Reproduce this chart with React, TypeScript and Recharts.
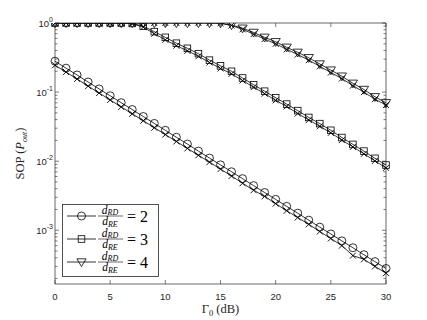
import React from 'react';
import { LineChart, Line, XAxis, YAxis } from 'recharts';

const gammaDb = [0,1,2,3,4,5,6,7,8,9,10,11,12,13,14,15,16,17,18,19,20,21,22,23,24,25,26,27,28,29,30];

const sopRatio2Analytic = [0.28,0.222,0.177,0.14,0.111,0.0885,0.0703,0.0559,0.0443,0.0352,0.028,0.0222,0.0177,0.014,0.0111,0.00885,0.00703,0.00559,0.00443,0.00352,0.0028,0.00222,0.00177,0.0014,0.00111,0.000885,0.000703,0.000559,0.000443,0.000352,0.00028];
const sopRatio2Sim = [0.245,0.195,0.155,0.122,0.097,0.077,0.061,0.0485,0.0385,0.0305,0.0243,0.0193,0.0153,0.0122,0.0097,0.0077,0.0061,0.0048,0.0038,0.0031,0.00243,0.00192,0.00153,0.00122,0.00096,0.00076,0.0006,0.00043,0.00038,0.0003,0.00024];

const sopRatio3Analytic = [1,1,1,1,1,1,1,0.985,0.9,0.75,0.62,0.51,0.43,0.36,0.29,0.24,0.2,0.16,0.128,0.103,0.083,0.067,0.054,0.043,0.035,0.028,0.022,0.0175,0.014,0.011,0.0088];
const sopRatio3Sim = [1,1,1,1,1,1,1,0.975,0.87,0.7,0.57,0.47,0.395,0.33,0.268,0.22,0.184,0.147,0.118,0.095,0.076,0.062,0.049,0.0395,0.032,0.0257,0.0202,0.0161,0.0128,0.0101,0.008];

const sopRatio4Analytic = [1,1,1,1,1,1,1,1,1,1,1,1,1,1,1,0.995,0.935,0.84,0.73,0.62,0.535,0.445,0.376,0.314,0.255,0.208,0.17,0.134,0.109,0.0855,0.07];
const sopRatio4Sim = [1,1,1,1,1,1,1,1,1,1,1,1,1,1,1,0.99,0.92,0.81,0.69,0.585,0.5,0.415,0.35,0.29,0.236,0.192,0.157,0.124,0.1,0.079,0.065];

const xTicks = [0,5,10,15,20,25,30];
const yMajorTicks = [0.001,0.01,0.1,1];
const yMinorTicks = [0.0002,0.0003,0.0004,0.0005,0.0006,0.0007,0.0008,0.0009,0.002,0.003,0.004,0.005,0.006,0.007,0.008,0.009,0.02,0.03,0.04,0.05,0.06,0.07,0.08,0.09,0.2,0.3,0.4,0.5,0.6,0.7,0.8,0.9];
const yDomain = [0.000167, 1];
const legendRatios = [2,3,4];
const legendMarkers = ['circle','square','triangle'];

const data = gammaDb.map((g, i) => ({
  g,
  a2: sopRatio2Analytic[i], s2: sopRatio2Sim[i],
  a3: sopRatio3Analytic[i], s3: sopRatio3Sim[i],
  a4: sopRatio4Analytic[i], s4: sopRatio4Sim[i],
}));

const yTicks = [...yMinorTicks, ...yMajorTicks].sort((a, b) => a - b);
const AX = '#262626';
const SANS = 'Liberation Sans, Arial, Helvetica, sans-serif';
const SERIF = 'Liberation Serif, Times New Roman, serif';

const isMajor = (v: number) => yMajorTicks.some(m => Math.abs(m - v) / m < 1e-6);

const Marker = ({ kind, cx, cy }: { kind: string; cx: number; cy: number }) => {
  const st = { stroke: '#000', strokeWidth: 0.8, fill: 'none' };
  if (kind === 'circle') return <circle cx={cx} cy={cy} r={4} {...st} />;
  if (kind === 'square') return <rect x={cx - 3.3} y={cy - 3.3} width={6.6} height={6.6} {...st} />;
  if (kind === 'triangle') return <path d={`M${cx - 4.6},${cy - 3.2} L${cx + 4.6},${cy - 3.2} L${cx},${cy + 4.6} Z`} {...st} />;
  return <path d={`M${cx - 3},${cy - 3} L${cx + 3},${cy + 3} M${cx - 3},${cy + 3} L${cx + 3},${cy - 3}`} stroke="#000" strokeWidth={0.9} fill="none" />;
};

const dotFn = (kind: string) => (p: any) => (
  <g key={`${kind}-${p.index}`}><Marker kind={kind} cx={p.cx} cy={p.cy} /></g>
);

const LeftTick = (p: any) => {
  const v = p.payload.value;
  const major = isMajor(v);
  const len = major ? 4 : 2.5;
  const exp = Math.round(Math.log10(v));
  return (
    <g>
      <line x1={p.x} x2={p.x + len} y1={p.y} y2={p.y} stroke={AX} strokeWidth={0.6} />
      {major && (
        <text x={p.x - 2} y={p.y + 3.5} textAnchor="end" fontSize={9.5} fontFamily={SANS} fill={AX}>
          10<tspan dy={-4.5} fontSize={7}>{exp === 0 ? '0' : `-${-exp}`}</tspan>
        </text>
      )}
    </g>
  );
};

const RightTick = (p: any) => {
  const v = p.payload.value;
  const len = isMajor(v) ? 4 : 2.5;
  return <line x1={p.x} x2={p.x - len} y1={p.y} y2={p.y} stroke={AX} strokeWidth={0.6} />;
};

const BottomTick = (p: any) => (
  <g>
    <line x1={p.x} x2={p.x} y1={p.y} y2={p.y - 4} stroke={AX} strokeWidth={0.6} />
    <text x={p.x} y={p.y + 16} textAnchor="middle" fontSize={9.5} fontFamily={SANS} fill={AX}>{p.payload.value}</text>
  </g>
);

const TopTick = (p: any) => (
  <line x1={p.x} x2={p.x} y1={p.y} y2={p.y + 4} stroke={AX} strokeWidth={0.6} />
);

const YLabel = () => {
  const cy = 23 + 261 / 2;
  return (
    <text x={24} y={cy} transform={`rotate(-90 24 ${cy})`} textAnchor="middle" fontSize={12.5} fontFamily={SERIF} fill={AX}>
      SOP (<tspan fontStyle="italic">P</tspan><tspan fontSize={8} dy={3} fontStyle="italic">out</tspan><tspan dy={-3}>)</tspan>
    </text>
  );
};

const XLabel = () => {
  const cx = 55 + 331 / 2;
  return (
    <text x={cx} y={313} textAnchor="middle" fontSize={12.5} fontFamily={SERIF} fill={AX}>
      Γ<tspan fontSize={8.5} dy={2.5}>0</tspan><tspan dy={-2.5}> (dB)</tspan>
    </text>
  );
};

const LegendBox = () => {
  const rows = [12, 35, 58];
  return (
    <svg width={98} height={74} style={{ position: 'absolute', left: 62, top: 204, overflow: 'visible' }}>
      <rect x={0.5} y={0.5} width={96} height={72} fill="#fff" stroke={AX} strokeWidth={0.8} />
      {legendRatios.map((r, i) => {
        const y = rows[i];
        return (
          <g key={r}>
            <line x1={5} x2={34} y1={y} y2={y} stroke="#000" strokeWidth={0.8} />
            <Marker kind={legendMarkers[i]} cx={19.5} cy={y} />
            <text x={48} y={y - 2.5} textAnchor="middle" fontSize={11.5} fontFamily={SERIF} fontStyle="italic" fill="#000">
              d<tspan fontSize={8} dy={1.5}>RD</tspan>
            </text>
            <line x1={36} x2={61} y1={y} y2={y} stroke="#000" strokeWidth={0.6} />
            <text x={48} y={y + 9} textAnchor="middle" fontSize={11.5} fontFamily={SERIF} fontStyle="italic" fill="#000">
              d<tspan fontSize={8} dy={1.5}>RE</tspan>
            </text>
            <text x={65} y={y + 6} fontSize={16} fontFamily={SERIF} fill="#000">= {r}</text>
          </g>
        );
      })}
    </svg>
  );
};

export default function App() {
  return (
    <div style={{ position: 'absolute', left: 0, top: 0, width: 427, height: 320, background: '#fff' }}>
      <LineChart width={427} height={320} data={data} margin={{ top: 22, right: 40, bottom: 35, left: 54 }}>
        <XAxis xAxisId="b" dataKey="g" type="number" domain={[0, 30]} ticks={xTicks} height={1} orientation="bottom"
          tickSize={0} tickMargin={0} tick={BottomTick} interval={0} axisLine={{ stroke: AX, strokeWidth: 0.7 }} label={XLabel} />
        <XAxis xAxisId="t" dataKey="g" type="number" domain={[0, 30]} ticks={xTicks} height={1} orientation="top"
          tickSize={0} tickMargin={0} tick={TopTick} interval={0} axisLine={{ stroke: AX, strokeWidth: 0.7 }} />
        <YAxis yAxisId="l" type="number" scale="log" domain={yDomain} ticks={yTicks} width={1} orientation="left"
          tickSize={0} tickMargin={0} tick={LeftTick} interval={0} axisLine={{ stroke: AX, strokeWidth: 0.7 }} allowDataOverflow label={YLabel} />
        <YAxis yAxisId="r" type="number" scale="log" domain={yDomain} ticks={yTicks} width={1} orientation="right"
          tickSize={0} tickMargin={0} tick={RightTick} interval={0} axisLine={{ stroke: AX, strokeWidth: 0.7 }} allowDataOverflow />
        {[['a2', 'circle'], ['a3', 'square'], ['a4', 'triangle'], ['s2', 'cross'], ['s3', 'cross'], ['s4', 'cross']].map(([k, m]) => (
          <Line key={k} xAxisId="b" yAxisId="l" dataKey={k} type="linear" stroke="#000" strokeWidth={0.8}
            dot={dotFn(m)} activeDot={false} isAnimationActive={false} />
        ))}
      </LineChart>
      <LegendBox />
    </div>
  );
}
